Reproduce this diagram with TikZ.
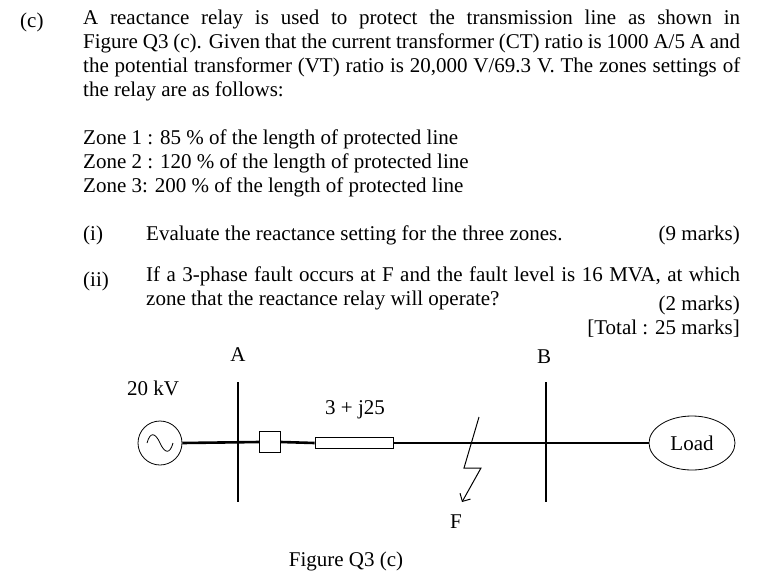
\documentclass[tikz,border=0pt]{standalone}
\usepackage{fontspec}
\setmainfont{Liberation Serif}
\usetikzlibrary{arrows.meta,shapes.geometric}
\begin{document}
\begin{tikzpicture}[x=1pt,y=-1pt,
  txt/.style={anchor=base west,inner sep=0pt,font=\fontsize{21}{24}\selectfont},
  lbl/.style={inner sep=0pt,font=\fontsize{21}{24}\selectfont},
  wire/.style={line width=2.6pt},
  bus/.style={line width=2.6pt}]
\useasboundingbox (0,0) rectangle (782,576);
\node[txt] (c) at (20,27) {(c)};
\node[txt,anchor=north west,text width=657pt,align=justify] (p) at (83,10)
 {A reactance relay is used to protect the transmission line as shown in\linebreak Figure Q3 (c). Given that the current transformer (CT) ratio is 1000 A/5 A and\linebreak the potential transformer (VT) ratio is 20,000 V/69.3 V. The zones settings of\linebreak the relay are as follows:};
\node[txt] (z1) at (83,144) {Zone 1 : 85 \% of the length of protected line};
\node[txt] (z2) at (83,168) {Zone 2 : 120 \% of the length of protected line};
\node[txt] (z3) at (83,192) {Zone 3: 200 \% of the length of protected line};
\node[txt] (i) at (83,240) {(i)};
\node[txt] (it) at (146,240) {Evaluate the reactance setting for the three zones.};
\node[txt,anchor=base east] (im) at (740,240) {(9 marks)};
\node[txt] (ii) at (83,286) {(ii)};
\node[txt,anchor=north west,text width=594pt,align=justify] (iit) at (146,267)
 {If a 3-phase fault occurs at F and the fault level is 16 MVA, at which\linebreak zone that the reactance relay will operate?};
\node[txt,anchor=base east] (iim) at (740,310) {(2 marks)};
\node[txt,anchor=base east] (tot) at (740,334) {[Total : 25 marks]};
% diagram
\node[lbl] (A) at (238,355) {A};
\node[lbl] (B) at (544,357) {B};
\node[lbl] (kv) at (153,388) {20 kV};
\node[lbl] (z) at (355,410) {3 + j25};
\node[lbl] (F) at (456,522) {F};
\node[lbl] (fig) at (346,561) {Figure Q3 (c)};
\node[draw,circle,minimum size=44pt,inner sep=0pt,line width=0.8pt] (gen) at (160,443) {};
\draw[line width=0.8pt] (147,443) .. controls (150,432) and (155,432) .. (160,443) .. controls (165,454) and (170,454) .. (173,443);
\node[draw,ellipse,minimum width=86pt,minimum height=54pt,inner sep=0pt,line width=0.8pt,lbl] (load) at (692,443) {Load};
\coordinate (a1) at (238,382); \coordinate (a2) at (238,502);
\coordinate (b1) at (546,382); \coordinate (b2) at (546,502);
\draw[bus] (a1) -- (a2);
\draw[bus] (b1) -- (b2);
\node[draw,fill=white,minimum size=21pt,inner sep=0pt,line width=0.8pt] (cb) at (270,442) {};
\node[draw,fill=white,minimum width=78pt,minimum height=11pt,inner sep=0pt,line width=0.8pt] (imp) at (354,443) {};
\draw[wire] (gen.east) -- (cb.west);
\draw[wire] (cb.east) -- (imp.west);
\draw[wire] (imp.east) -- (load.west);
\coordinate (f1) at (479,417); \coordinate (f2) at (464,468);
\coordinate (f3) at (481,468); \coordinate (f4) at (462,502);
\draw[line width=1pt,-{Straight Barb[length=6pt]}] (f1) -- (f2) -- (f3) -- (f4);
\end{tikzpicture}
\end{document}
